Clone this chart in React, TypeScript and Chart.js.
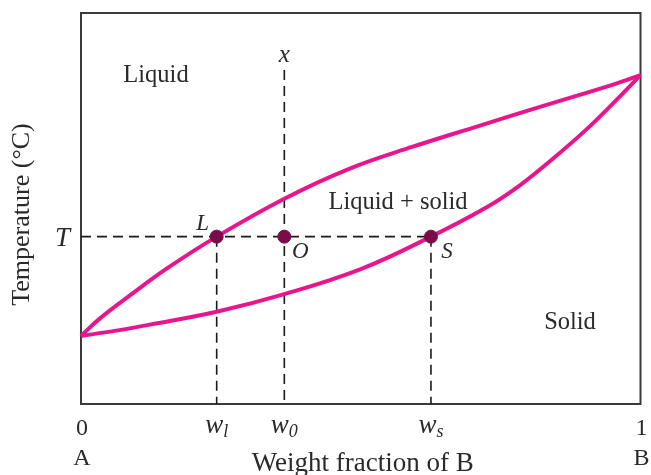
import { useEffect, useRef } from "react";
import { Chart, registerables } from "chart.js";

Chart.register(...registerables);

// Compositions (weight fraction of B) and the tie-line temperature
const W_L = 0.2425;
const W_0 = 0.3634;
const W_S = 0.6255;
const T_VALUE = 42.8;
const X_LINE_TOP = 85.4;

// Liquidus (upper boundary)
const liquidusX = [0, 0.034, 0.0935, 0.153, W_L, 0.3634, 0.475, 0.593, 0.713, 0.832, 0.951, 1];
const liquidusY = [17.4, 21.9, 28.4, 34.6, T_VALUE, 52.5, 59.9, 65.8, 71.2, 76.5, 81.7, 84.1];

// Solidus (lower boundary)
const solidusX = [0, 0.06, 0.123, W_L, 0.3634, 0.5, W_S, 0.725, 0.785, 0.844, 0.904, 0.951, 1];
const solidusY = [17.4, 18.7, 20.3, 23.6, 28.1, 34.5, T_VALUE, 50.3, 56.0, 62.8, 70.3, 76.9, 84.1];

// Marked state points L, O, S
const pointX = [W_L, W_0, W_S];
const pointY = [T_VALUE, T_VALUE, T_VALUE];

// Composition axis labels
const tickValues = [0, W_L, W_0, W_S, 1];
const tickMain = ["0", "w", "w", "w", "1"];
const tickSub = ["", "l", "0", "s", ""];
const endNames = ["A", "", "", "", "B"];

const SERIF = "'Liberation Serif', 'Times New Roman', serif";
const MAGENTA = "#e8168c";
const MAROON = "#7a0c47";
const INK = "#2a2a2a";

const toPoints = (xs: number[], ys: number[]) => xs.map((x, i) => ({ x, y: ys[i] }));

const diagramPlugin = {
  id: "phaseDiagramDecor",
  beforeDatasetsDraw(chart: any) {
    const { ctx, chartArea } = chart;
    const { left, top, right, bottom } = chartArea;
    ctx.save();
    ctx.strokeStyle = "#3a3a3a";
    ctx.lineWidth = 2;
    ctx.strokeRect(left, top, right - left, bottom - top);
    ctx.restore();
  },
  afterDraw(chart: any) {
    const { ctx, chartArea, scales } = chart;
    const xs = scales.x;
    const ys = scales.y;
    const { left, right, top, bottom } = chartArea;
    ctx.save();
    ctx.fillStyle = INK;

    // composition tick labels
    tickValues.forEach((v, i) => {
      const px = xs.getPixelForValue(v);
      if (tickSub[i]) {
        ctx.font = `italic 27px ${SERIF}`;
        const wMain = ctx.measureText(tickMain[i]).width;
        ctx.font = `italic 18px ${SERIF}`;
        const wSub = ctx.measureText(tickSub[i]).width;
        const start = px - (wMain + wSub) / 2;
        ctx.textAlign = "left";
        ctx.textBaseline = "alphabetic";
        ctx.font = `italic 27px ${SERIF}`;
        ctx.fillText(tickMain[i], start, bottom + 29);
        ctx.font = `italic 18px ${SERIF}`;
        ctx.fillText(tickSub[i], start + wMain, bottom + 33);
      } else {
        ctx.font = `24px ${SERIF}`;
        ctx.textAlign = "center";
        ctx.textBaseline = "alphabetic";
        ctx.fillText(tickMain[i], px + 1, bottom + 31);
      }
      if (endNames[i]) {
        ctx.font = `24px ${SERIF}`;
        ctx.textAlign = "center";
        ctx.fillText(endNames[i], px + 1, bottom + 61);
      }
    });

    // temperature tick T
    ctx.font = `italic 27px ${SERIF}`;
    ctx.textAlign = "right";
    ctx.textBaseline = "alphabetic";
    ctx.fillText("T", left - 11, ys.getPixelForValue(T_VALUE) + 9);

    // axis titles
    ctx.font = `27px ${SERIF}`;
    ctx.textAlign = "center";
    ctx.fillText("Weight fraction of B", (left + right) / 2 + 2, bottom + 67);
    ctx.font = `26px ${SERIF}`;
    ctx.save();
    ctx.translate(left - 59, (top + bottom) / 2 + 6);
    ctx.rotate(-Math.PI / 2);
    ctx.textBaseline = "middle";
    ctx.fillText("Temperature (°C)", 0, 0);
    ctx.restore();

    // region names
    ctx.font = `24.5px ${SERIF}`;
    ctx.textAlign = "center";
    ctx.textBaseline = "alphabetic";
    ctx.fillText("Liquid", xs.getPixelForValue(0.134), ys.getPixelForValue(82.4));
    ctx.fillText("Liquid + solid", xs.getPixelForValue(0.5666), ys.getPixelForValue(50.0));
    ctx.fillText("Solid", xs.getPixelForValue(0.874), ys.getPixelForValue(19.3));

    // point letters
    ctx.font = `italic 23px ${SERIF}`;
    const yT = ys.getPixelForValue(T_VALUE);
    ctx.fillText("L", xs.getPixelForValue(W_L) - 14, yT - 7);
    ctx.fillText("O", xs.getPixelForValue(W_0) + 16, yT + 21);
    ctx.fillText("S", xs.getPixelForValue(W_S) + 16, yT + 21);
    ctx.font = `italic 25px ${SERIF}`;
    ctx.fillText("x", xs.getPixelForValue(W_0), ys.getPixelForValue(X_LINE_TOP) - 8);

    ctx.restore();
  },
};

export default function App() {
  const canvasRef = useRef<HTMLCanvasElement | null>(null);

  useEffect(() => {
    const canvas = canvasRef.current;
    if (!canvas) return;

    const dashed = {
      type: "line" as const,
      borderColor: "#1a1a1a",
      borderWidth: 1.6,
      borderDash: [10, 6],
      pointRadius: 0,
      tension: 0,
      fill: false,
      order: 3,
      clip: false as any,
    };

    const curve = {
      borderColor: MAGENTA,
      borderWidth: 4,
      pointRadius: 0,
      tension: 0.4,
      fill: false,
      order: 1,
      clip: false as any,
    };

    const chart = new Chart(canvas, {
      type: "line",
      data: {
        datasets: [
          {
            label: "points",
            type: "scatter",
            data: toPoints(pointX, pointY),
            backgroundColor: MAROON,
            borderColor: MAROON,
            pointRadius: 6.5,
            showLine: false,
            order: 0,
          },
          { ...curve, label: "liquidus", data: toPoints(liquidusX, liquidusY) },
          { ...curve, label: "solidus", data: toPoints(solidusX, solidusY) },
          { ...dashed, label: "tie line", data: [{ x: 0, y: T_VALUE }, { x: W_S, y: T_VALUE }] },
          { ...dashed, label: "wl", data: [{ x: W_L, y: T_VALUE }, { x: W_L, y: 0 }] },
          { ...dashed, label: "ws", data: [{ x: W_S, y: T_VALUE }, { x: W_S, y: 0 }] },
          { ...dashed, label: "x", data: [{ x: W_0, y: X_LINE_TOP }, { x: W_0, y: 0 }] },
        ] as any,
      },
      options: {
        animation: false,
        responsive: true,
        maintainAspectRatio: false,
        layout: { padding: { left: 81, top: 13, right: 10.5, bottom: 71 } },
        plugins: { legend: { display: false }, tooltip: { enabled: false } },
        scales: {
          x: { type: "linear", min: 0, max: 1, display: false },
          y: { type: "linear", min: 0, max: 100, display: false },
        },
      },
      plugins: [diagramPlugin],
    });

    return () => chart.destroy();
  }, []);

  return (
    <div style={{ position: "fixed", left: 0, top: 0, width: 651, height: 475, background: "#fff" }}>
      <canvas ref={canvasRef} />
    </div>
  );
}
